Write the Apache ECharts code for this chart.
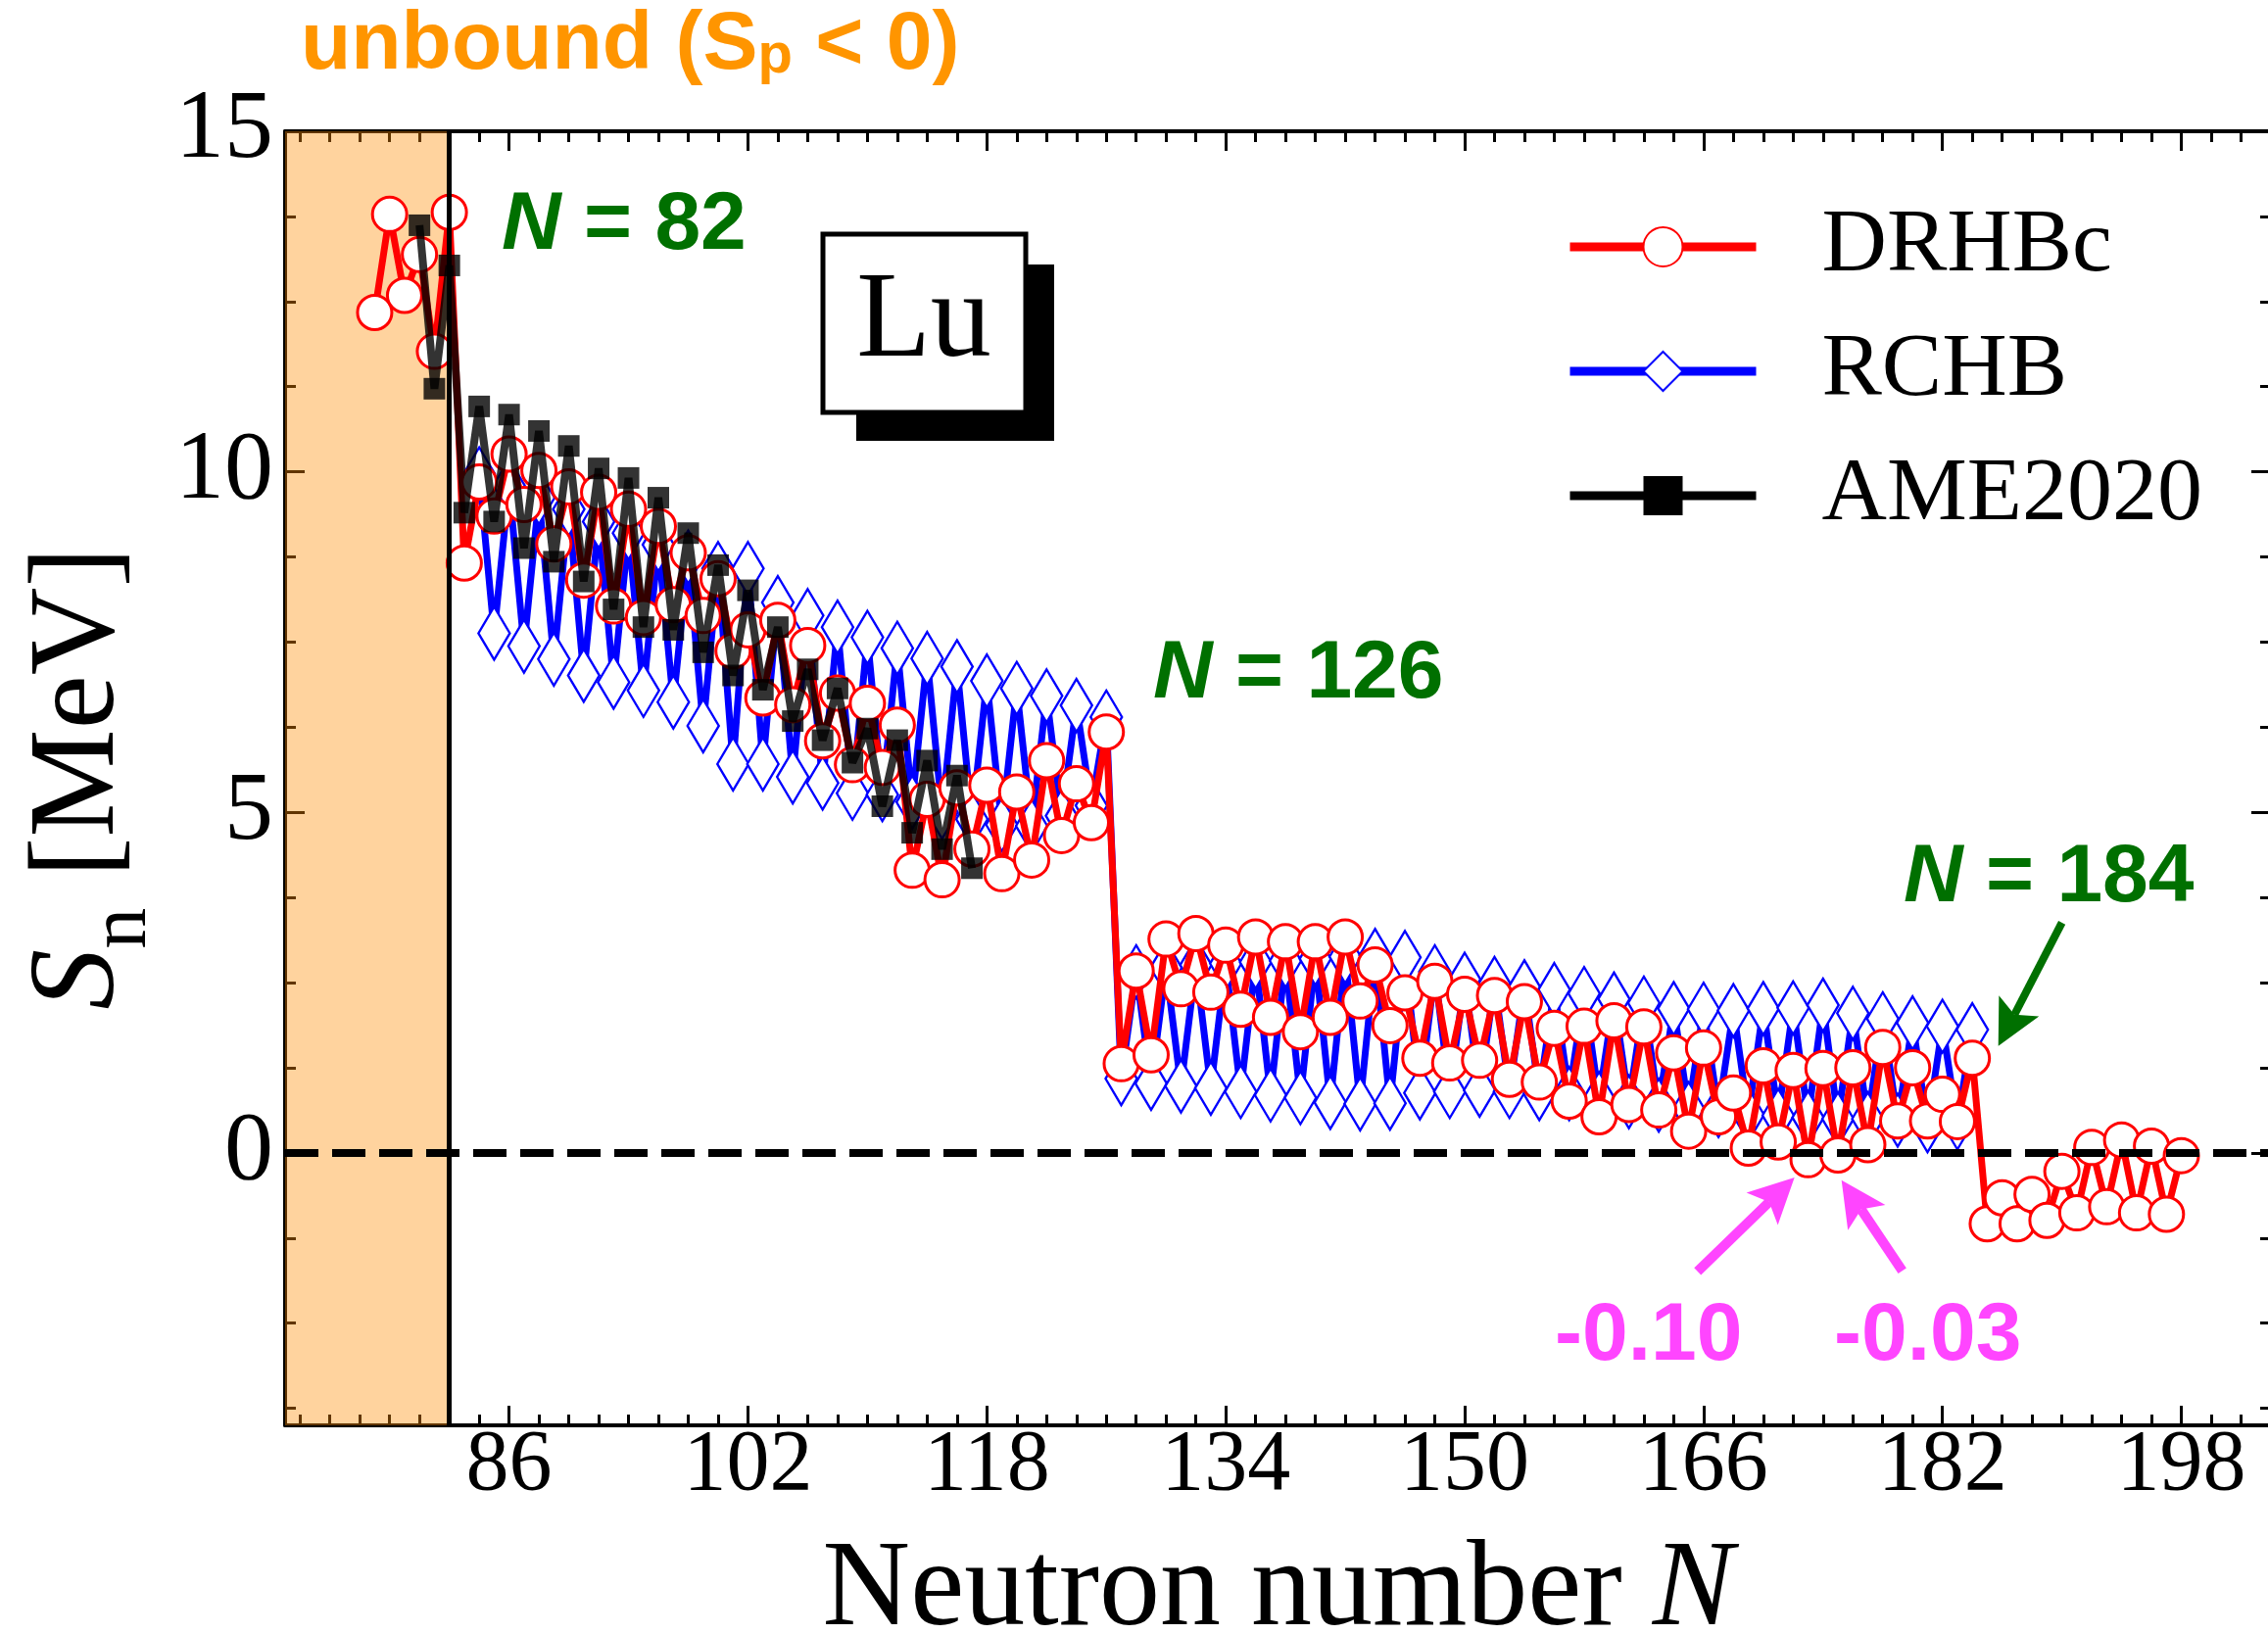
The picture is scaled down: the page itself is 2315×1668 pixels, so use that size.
<!DOCTYPE html>
<html><head><meta charset="utf-8">
<script src="https://cdn.jsdelivr.net/npm/echarts@6/dist/echarts.min.js"></script>
<style>html,body{margin:0;padding:0;background:#fff}#c{width:2315px;height:1668px}</style>
</head><body><div id="c"></div>
<script>
// ---------------- data ----------------
const drhbcStartN = 77;
const drhbcSn = [
  12.34, 13.78, 12.59, 13.19, 11.77, 13.81,               // 77-82
  8.66, 9.85, 9.35, 10.26, 9.52, 10.02, 8.94, 9.78, 8.41, 9.70,   // 83-92
  8.03, 9.45, 7.86, 9.20, 8.05, 8.81, 7.89, 8.43, 7.37, 7.68,     // 93-102
  6.68, 7.82, 6.58, 7.45, 6.05, 6.75, 5.70, 6.60, 5.66, 6.28,     // 103-112
  4.15, 5.19, 4.01, 5.36, 4.46, 5.40, 4.10, 5.30, 4.30, 5.76,     // 113-122
  4.66, 5.42, 4.85, 6.18, 1.31, 2.67, 1.44, 3.14, 2.41, 3.22,     // 123-132
  2.36, 3.05, 2.11, 3.17, 1.99, 3.10, 1.78, 3.10, 1.99, 3.17,     // 133-142
  2.23, 2.76, 1.87, 2.35, 1.39, 2.52, 1.32, 2.33, 1.36, 2.31,     // 143-152
  1.08, 2.22, 1.04, 1.83, 0.76, 1.86, 0.53, 1.94, 0.71, 1.85,     // 153-162
  0.63, 1.47, 0.32, 1.54, 0.53, 0.88, 0.07, 1.28, 0.16, 1.21,     // 163-172
  -0.10, 1.24, -0.03, 1.25, 0.12, 1.55, 0.47, 1.25, 0.47, 0.86,   // 173-182
  0.46, 1.39, -1.04, -0.66, -1.04, -0.61, -0.99, -0.27, -0.88, 0.08, // 183-192
  -0.79, 0.19, -0.88, 0.10, -0.90, -0.04                          // 193-198
];
const rchbStartN = 84;
const rchbSn = [
  9.97, 7.63, 9.80, 7.44, 9.62, 7.25, 9.45, 7.01, 9.27, 6.91,     // 84-93
  9.10, 6.79, 8.93, 6.62, 8.75, 6.27, 8.58, 5.71, 8.58, 5.71,     // 94-103
  8.08, 5.52, 7.89, 5.43, 7.72, 5.28, 7.57, 5.26, 7.41, 5.15,     // 104-113
  7.26, 5.00, 7.14, 4.90, 6.93, 4.82, 6.82, 4.80, 6.71, 4.95,     // 114-123
  6.57, 5.10, 6.40, 1.09, 2.66, 1.02, 2.72, 0.98, 2.76, 0.95,     // 124-133
  2.78, 0.90, 2.80, 0.85, 2.82, 0.81, 2.85, 0.74, 2.88, 0.72,     // 134-143
  2.90, 0.73, 2.87, 0.88, 2.66, 0.90, 2.55, 0.92, 2.49, 0.90,     // 144-153
  2.44, 0.87, 2.40, 0.87, 2.34, 0.80, 2.26, 0.75, 2.20, 0.70,     // 154-163
  2.12, 0.65, 2.11, 0.62, 2.09, 0.56, 2.12, 0.55, 2.13, 0.52,     // 164-173
  2.17, 0.50, 2.05, 0.50, 1.97, 0.48, 1.91, 0.40, 1.86, 0.44,     // 174-183
  1.81                                                            // 184
];
const ameStartN = 80;
const ameSn = [
  13.62, 11.22, 13.03, 9.40, 10.96, 9.27, 10.84, 8.88, 10.60, 8.68, // 80-89
  10.38, 8.39, 10.05, 7.98, 9.91, 7.72, 9.62, 7.68, 9.10, 7.35,     // 90-99
  8.63, 7.01, 8.26, 6.80, 7.72, 6.34, 7.10, 6.06, 6.82, 5.73,       // 100-109
  6.23, 5.09, 6.06, 4.70, 5.76, 4.46, 5.54, 4.18                    // 110-117
];
const seriesNames = ['DRHBc', 'RCHB', 'AME2020'];
const xTickLabels = [86, 102, 118, 134, 150, 166, 182, 198];
const yTickLabels = [0, 5, 10, 15];
const xRange = [71, 204];
const yRange = [-4, 15];
const unboundEdgeN = 82;
const magicLabels = ['N = 82', 'N = 126', 'N = 184'];
const negLabels = ['-0.10', '-0.03'];
// arrows in data coordinates [N, Sn]: tail -> tip
const arrow184 = [[190.0, 3.38], [185.74, 1.57]];
const arrowNeg1 = [[165.6, -1.74], [172.09, -0.36]];
const arrowNeg2 = [[179.31, -1.73], [175.24, -0.40]];

// ---------------- helpers ----------------
const pair = (start, arr) => arr.map((v, i) => [start + i, v]);
const xMinor = []; for (let n = 72; n <= 204; n += 2) xMinor.push(n);
const yMinor = []; for (let k = -3; k <= 11; k++) yMinor.push(k * 1.25);

const SERIF = 'Liberation Serif';
const SANS = 'Liberation Sans';
const GREEN = '#007000';
const MAGENTA = '#FF45FF';
const ORANGE = '#FF9500';

const chart = echarts.init(document.getElementById('c'), null, {renderer: 'canvas'});

function xAx(pos, vals, len, line, labels) {
  return {
    type: 'value', min: xRange[0], max: xRange[1], position: pos,
    axisLine: {show: line, onZero: false, lineStyle: {color: '#000', width: 4}},
    axisTick: {show: true, inside: true, length: len, customValues: vals, lineStyle: {color: '#000', width: 3}},
    axisLabel: labels ? {show: true, customValues: xTickLabels, fontFamily: SERIF, fontSize: 88, color: '#000', margin: -2, lineHeight: 88} : {show: false},
    splitLine: {show: false},
    name: labels ? '{a|Neutron number }{i|N}' : '',
    nameLocation: 'middle', nameGap: 108,
    nameTextStyle: {rich: {
      a: {fontFamily: SERIF, fontSize: 124, color: '#000'},
      i: {fontFamily: SERIF, fontSize: 124, fontStyle: 'italic', color: '#000'}
    }}
  };
}
function yAx(pos, vals, len, line, labels) {
  return {
    type: 'value', min: yRange[0], max: yRange[1], position: pos,
    axisLine: {show: line, onZero: false, lineStyle: {color: '#000', width: 4}},
    axisTick: {show: true, inside: true, length: len, customValues: vals, lineStyle: {color: '#000', width: 3}},
    axisLabel: labels ? {show: true, customValues: yTickLabels, fontFamily: SERIF, fontSize: 100, color: '#000', margin: 12} : {show: false},
    splitLine: {show: false},
    name: labels ? '{i|S}{sub|n}{t| [MeV]}' : '',
    nameLocation: 'middle', nameGap: 96, nameRotate: 90,
    nameTextStyle: {rich: {
      i: {fontFamily: SERIF, fontSize: 124, fontStyle: 'italic', color: '#000'},
      sub: {fontFamily: SERIF, fontSize: 84, color: '#000', padding: [88, 0, 0, 0]},
      t: {fontFamily: SERIF, fontSize: 124, color: '#000'}
    }}
  };
}

const option = {
  animation: false,
  backgroundColor: '#fff',
  grid: {left: 291, top: 134, width: 2027, height: 1321, containLabel: false, outerBoundsMode: 'none'},
  xAxis: [
    xAx('bottom', xTickLabels, 20, true, true),
    xAx('bottom', xMinor, 11, false, false),
    xAx('top', xTickLabels, 20, true, false),
    xAx('top', xMinor, 11, false, false)
  ],
  yAxis: [
    yAx('left', yTickLabels, 20, true, true),
    yAx('left', yMinor, 11, false, false),
    yAx('right', yTickLabels, 20, true, false),
    yAx('right', yMinor, 11, false, false)
  ],
  legend: {
    show: true, orient: 'vertical', left: 1593, top: 201,
    itemWidth: 190, itemHeight: 50, itemGap: 35, selectedMode: false,
    textStyle: {fontFamily: SERIF, fontSize: 92, color: '#000', padding: [0, 0, 0, 62]},
    data: [
      {name: seriesNames[0], lineStyle: {color: '#FF0000', width: 9}},
      {name: seriesNames[1], lineStyle: {color: '#0000FF', width: 9}},
      {name: seriesNames[2], itemStyle: {color: '#000', opacity: 1}, lineStyle: {color: '#000', width: 9, opacity: 1}}
    ]
  },
  series: [
    { // dashed zero line
      type: 'line', data: [], z: 1, silent: true,
      markLine: {silent: true, symbol: 'none', label: {show: false},
        lineStyle: {color: '#000', width: 8, type: [34, 14]},
        data: [{yAxis: 0}]}
    },
    {
      name: seriesNames[1], type: 'line', z: 2, data: pair(rchbStartN, rchbSn),
      symbol: 'diamond', symbolSize: [32, 54],
      itemStyle: {color: '#fff', borderColor: '#0000FF', borderWidth: 2.5},
      lineStyle: {color: '#0000FF', width: 7}, emphasis: {disabled: true}
    },
    {
      name: seriesNames[0], type: 'line', z: 3, data: pair(drhbcStartN, drhbcSn),
      symbol: 'circle', symbolSize: 35,
      itemStyle: {color: '#fff', borderColor: '#FF0000', borderWidth: 3},
      lineStyle: {color: '#FF0000', width: 7}, emphasis: {disabled: true}
    },
    {
      name: seriesNames[2], type: 'line', z: 4, data: pair(ameStartN, ameSn),
      symbol: 'rect', symbolSize: 22,
      itemStyle: {color: 'rgba(0,0,0,0.8)'},
      lineStyle: {color: 'rgba(0,0,0,0.8)', width: 8}, emphasis: {disabled: true}
    },
    { // unbound shading on top
      type: 'line', data: [], z: 10, silent: true,
      markArea: {silent: true, label: {show: false},
        itemStyle: {color: 'rgba(255,140,0,0.38)'},
        data: [[{xAxis: xRange[0], yAxis: yRange[0]}, {xAxis: unboundEdgeN, yAxis: yRange[1]}]]}
    },
    { // N = 82 boundary
      type: 'line', data: [], z: 11, silent: true,
      markLine: {silent: true, symbol: 'none', label: {show: false},
        lineStyle: {color: '#000', width: 5, type: 'solid'},
        data: [{xAxis: unboundEdgeN}]}
    }
  ]
};
chart.setOption(option);

// ---------------- annotations ----------------
function arrowEls(tail, tip, color, width) {
  const p0 = chart.convertToPixel({xAxisIndex: 0, yAxisIndex: 0}, tail);
  const p1 = chart.convertToPixel({xAxisIndex: 0, yAxisIndex: 0}, tip);
  const dx = p1[0] - p0[0], dy = p1[1] - p0[1];
  const d = Math.hypot(dx, dy);
  const ux = dx / d, uy = dy / d, nx = -uy, ny = ux;
  const L = 46, W = 23, notch = 10;
  const bx = p1[0] - ux * L, by = p1[1] - uy * L;
  const shaftEnd = [p1[0] - ux * (L - notch), p1[1] - uy * (L - notch)];
  return [
    {type: 'line', z: 100, shape: {x1: p0[0], y1: p0[1], x2: shaftEnd[0], y2: shaftEnd[1]},
      style: {stroke: color, lineWidth: width}},
    {type: 'polygon', z: 100, shape: {points: [
      [p1[0], p1[1]], [bx + nx * W, by + ny * W], shaftEnd, [bx - nx * W, by - ny * W]]},
      style: {fill: color}}
  ];
}
function richLabel(txt, x, y, color) {
  const parts = txt.split(' = ');
  return {type: 'text', z: 100, x: x, y: y, style: {
    text: '{i|' + parts[0] + '}{b| = ' + parts[1] + '}', verticalAlign: 'middle', align: 'left',
    rich: {
      i: {fontFamily: SANS, fontSize: 84, fontWeight: 'bold', fontStyle: 'italic', fill: color},
      b: {fontFamily: SANS, fontSize: 84, fontWeight: 'bold', fill: color}
    }}};
}

const graphics = [];
// "Lu" box with shadow
graphics.push({type: 'rect', z: 90, shape: {x: 874, y: 270, width: 202, height: 180}, style: {fill: '#000'}});
graphics.push({type: 'rect', z: 91, shape: {x: 840, y: 239, width: 207, height: 182}, style: {fill: '#fff', stroke: '#000', lineWidth: 5}});
graphics.push({type: 'text', z: 92, x: 943, y: 330, style: {text: 'Lu', fontFamily: SERIF, fontSize: 124, fill: '#000', align: 'center', verticalAlign: 'middle'}});
// unbound title
graphics.push({type: 'text', z: 100, x: 307, y: 47, style: {
  text: '{b|unbound (S}{s|p}{b| < 0)}', verticalAlign: 'middle', align: 'left',
  rich: {
    b: {fontFamily: SANS, fontSize: 84, fontWeight: 'bold', fill: ORANGE},
    s: {fontFamily: SANS, fontSize: 58, fontWeight: 'bold', fill: ORANGE, padding: [22, 0, 0, 0]}
  }}});
// magic numbers
graphics.push(richLabel(magicLabels[0], 512, 231, GREEN));
graphics.push(richLabel(magicLabels[1], 1177, 689, GREEN));
graphics.push(richLabel(magicLabels[2], 1943, 897, GREEN));
// negative values
graphics.push({type: 'text', z: 100, x: 1587, y: 1365, style: {text: negLabels[0], fontFamily: SANS, fontSize: 84, fontWeight: 'bold', fill: MAGENTA, verticalAlign: 'middle'}});
graphics.push({type: 'text', z: 100, x: 1872, y: 1365, style: {text: negLabels[1], fontFamily: SANS, fontSize: 84, fontWeight: 'bold', fill: MAGENTA, verticalAlign: 'middle'}});
// arrows
graphics.push(...arrowEls(arrow184[0], arrow184[1], GREEN, 8));
graphics.push(...arrowEls(arrowNeg1[0], arrowNeg1[1], MAGENTA, 10));
graphics.push(...arrowEls(arrowNeg2[0], arrowNeg2[1], MAGENTA, 10));

chart.setOption({graphic: {elements: graphics}});
</script>
</body></html>
